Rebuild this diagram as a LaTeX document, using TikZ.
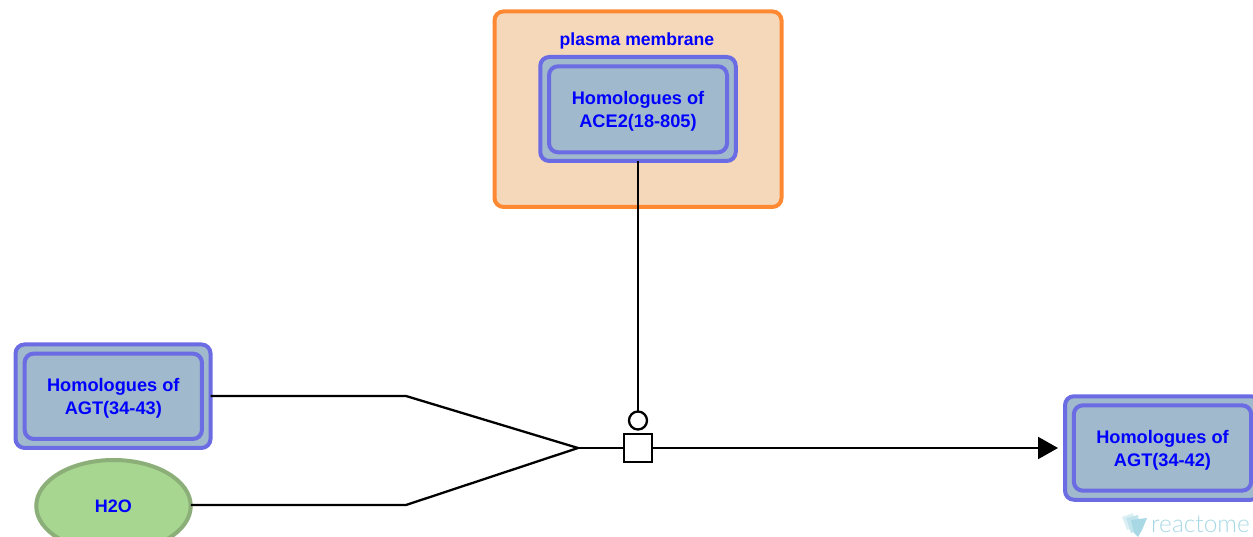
\documentclass[tikz,border=0pt]{standalone}
\usepackage{fontspec}
\setmainfont{Liberation Sans}
\newfontfamily\logofont{Lato Light}
\usetikzlibrary{shapes.geometric,arrows.meta}
\definecolor{pefill}{HTML}{A0B9CC}
\definecolor{pestroke}{HTML}{6B6BE3}
\definecolor{txtblue}{HTML}{0000FF}
\definecolor{cmpfill}{HTML}{F5D7BA}
\definecolor{cmpstroke}{HTML}{FF8833}
\definecolor{chemfill}{HTML}{A6D68F}
\definecolor{chemstroke}{HTML}{8CAE78}
\definecolor{logoblue}{HTML}{A8D8E4}
\newcommand{\twolines}[2]{\rule{0pt}{18pt}#1\\#2}
\tikzset{
  outerbox/.style={draw=pestroke,fill=pefill,line width=4pt,rounded corners=9pt,outer sep=0pt,inner sep=0pt,minimum width=#1},
  innerbox/.style={draw=pestroke,fill=pefill,line width=4pt,rounded corners=9pt,outer sep=0pt,inner sep=0pt,align=center,text=txtblue,font=\bfseries\fontsize{18.2}{23}\selectfont,minimum width=#1},
  conn/.style={draw=black,line width=2.3pt},
}
\begin{document}
\begin{tikzpicture}[x=1pt,y=-1pt]
\useasboundingbox (0,0) rectangle (1253,537);
\clip (0,0) rectangle (1253,537);
% compartment
\node[draw=cmpstroke,fill=cmpfill,line width=4pt,rounded corners=9pt,minimum width=287pt,minimum height=195.5pt,outer sep=0pt] (cmp) at (638,109.2) {};
\node[text=txtblue,font=\bfseries\fontsize{17.6}{20}\selectfont,inner sep=0pt] (cmplabel) at (637,40.8) {plasma membrane};
% ACE2
\node[outerbox=195.5pt,minimum height=104pt] (aceo) at (638,109) {};
\node[innerbox=178pt,minimum height=86pt] (ace) at (638,109.3) {\twolines{Homologues of}{ACE2(18-805)}};
% AGT 34-43
\node[outerbox=195pt,minimum height=103.5pt] (ato) at (113,396.2) {};
\node[innerbox=177.3pt,minimum height=85.3pt] (at) at (113.3,396.3) {\twolines{Homologues of}{AGT(34-43)}};
% H2O
\node[draw=chemstroke,fill=chemfill,line width=4pt,ellipse,minimum width=154.5pt,minimum height=92pt,inner sep=0pt,outer sep=0pt,text=txtblue,font=\bfseries\fontsize{18}{20}\selectfont] (water) at (113.5,506) {H2O};
% AGT 34-42
\node[outerbox=195pt,minimum height=103.5pt] (apo) at (1162.5,448) {};
\node[innerbox=177.3pt,minimum height=85.3pt] (ap) at (1162.5,448) {\twolines{Homologues of}{AGT(34-42)}};
% reaction
\node[draw=black,fill=white,line width=2.3pt,minimum width=28pt,minimum height=28pt,inner sep=0pt,outer sep=0pt] (rx) at (638,448) {};
\node[draw=black,fill=white,line width=2.3pt,circle,minimum size=18pt,inner sep=0pt,outer sep=0pt] (cat) at (638,420.5) {};
\coordinate (bendA) at (406,396);
\coordinate (bendB) at (406,505);
\coordinate (merge) at (578,448);
\coordinate (tip) at (1058,448);
\draw[conn] (aceo.south) -- (cat.north);
\draw[conn,line join=miter] (ato.east |- bendA) -- (bendA) -- (merge);
\draw[conn,line join=miter] (water.east |- bendB) -- (bendB) -- (merge);
\draw[conn] (merge) -- (rx.west);
\draw[conn,-{Triangle[length=20pt,width=22pt]}] (rx.east) -- (tip);
% logo
\fill[logoblue!40] (1122,517) -- (1133,513) -- (1136,528) -- (1127,530) -- cycle;
\fill[logoblue!70] (1126,518) -- (1138,515) -- (1140,530) -- (1131,533) -- cycle;
\fill[logoblue] (1131,520) -- (1147,518) -- (1142,530) -- (1138,537) -- (1134,533) -- cycle;
\node[text=logoblue,font=\logofont\fontsize{24.5}{24.5}\selectfont,inner sep=0pt,anchor=west] (logo) at (1151,524) {reactome};
\end{tikzpicture}
\end{document}
